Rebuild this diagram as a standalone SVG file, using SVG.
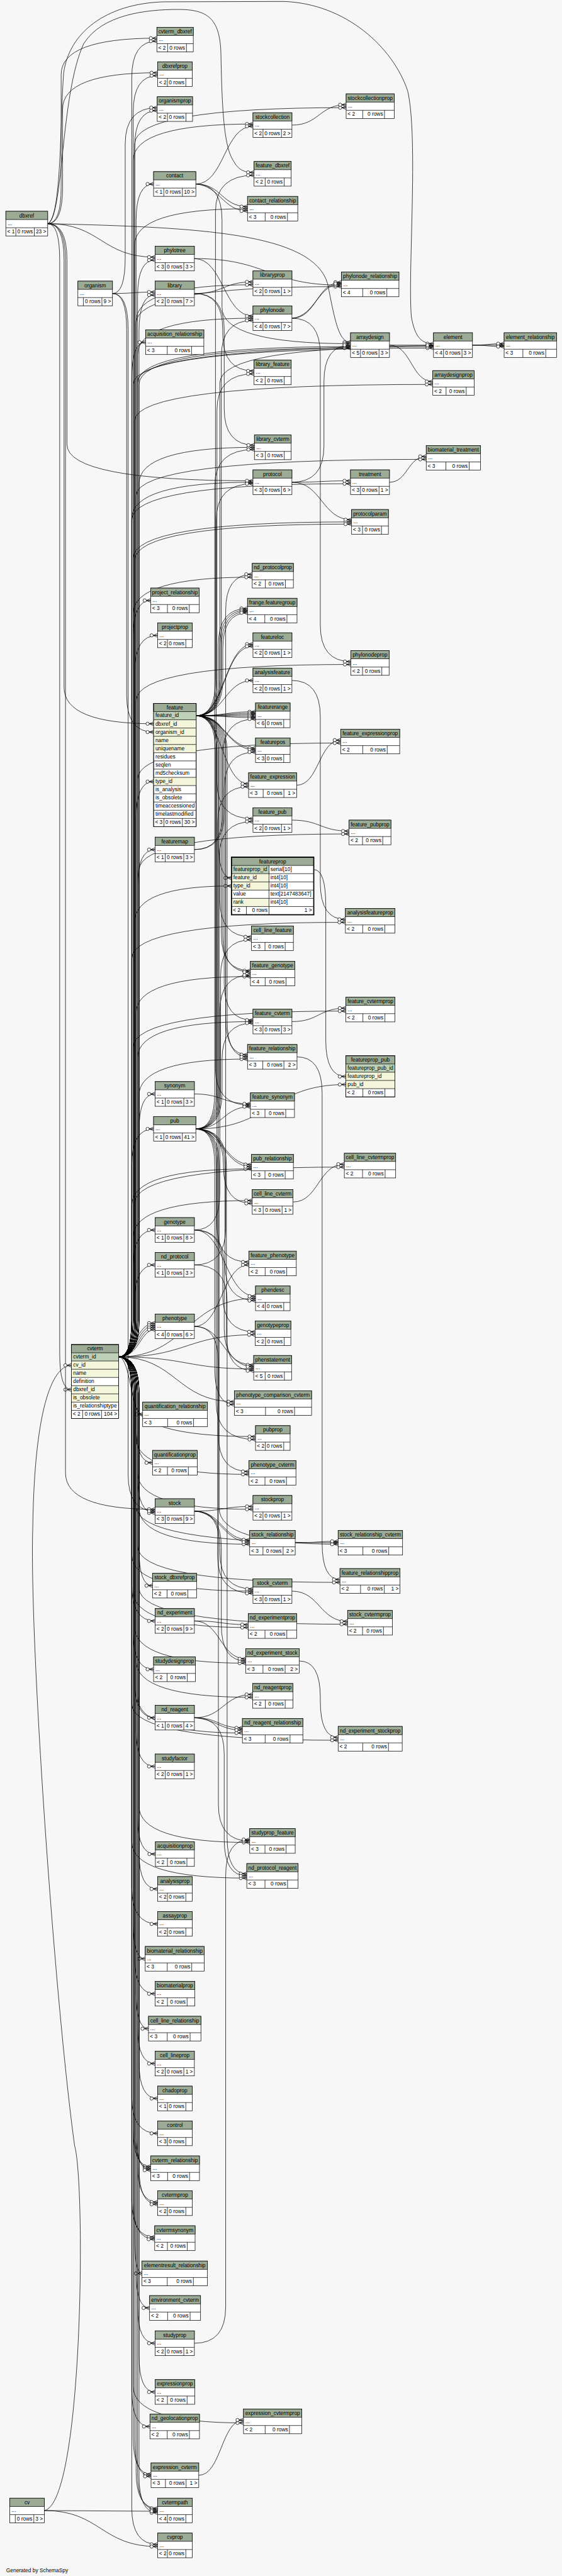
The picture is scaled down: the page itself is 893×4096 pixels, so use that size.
<svg xmlns="http://www.w3.org/2000/svg" width="893" height="4096" viewBox="0 0 893 4096">
<style>
.c path{fill:none;stroke:#000;stroke-width:1.3;marker-end:url(#m)}
.h{fill:#9bab96;stroke:#000;stroke-width:1.3}
.b{fill:#fff;stroke:#000;stroke-width:1.3}
.k{fill:#bed1b8}
.i{fill:#f4f6dc}
.l{fill:none;stroke:#000;stroke-width:1.3}
.o{fill:none;stroke:#000;stroke-width:1.3}
.f{fill:none;stroke:#000;stroke-width:3}
text{font-family:"Liberation Sans",Arial,Helvetica,sans-serif;font-size:14.5px;fill:#000}
.n{text-anchor:middle}
.e{text-anchor:end}
</style>
<defs>
<marker id="m" markerUnits="userSpaceOnUse" viewBox="0 0 24 14" markerWidth="24" markerHeight="14" refX="24" refY="7" orient="auto"><path d="M12 7L24 2M12 7H24M12 7L24 12" fill="none" stroke="#000" stroke-width="1.3"/><circle cx="7.5" cy="7" r="4.5" fill="#fff" stroke="#000" stroke-width="1.3"/></marker>
</defs>
<rect width="893" height="4096" fill="#f7f7f7"/>
<g transform="scale(0.57837 0.57829)">
<g id="connectors" class="c">
<path d="M326 3731Q362 3731 362 3631L362 213Q362 113 431 113"/>
<path d="M326 3731Q366 3731 366 3631L366 308Q366 208 433 208"/>
<path d="M326 3731Q370 3731 370 3631L370 404Q370 304 432 304"/>
<path d="M326 3731Q374 3731 374 3631L374 606Q374 506 422 506"/>
<path d="M326 3731Q378 3731 378 3631L378 815Q378 715 426 715"/>
<path d="M326 3731Q382 3731 382 3631L382 911Q382 811 426 811"/>
<path d="M326 3731Q362 3731 362 3631L362 1041Q362 941 400 941"/>
<path d="M326 3731Q366 3731 366 3631L366 1751Q366 1651 414 1651"/>
<path d="M326 3731Q370 3731 370 3631L370 1847Q370 1747 433 1747"/>
<path d="M326 3731Q374 3731 374 3631L374 2249Q374 2149 422 2149"/>
<path d="M326 3731Q378 3731 378 3631L378 2436Q378 2336 426 2336"/>
<path d="M326 3731Q382 3731 382 3631L382 3108Q382 3008 426 3008"/>
<path d="M326 3731Q362 3731 362 3631L362 3204Q362 3104 422 3104"/>
<path d="M326 3731Q366 3731 366 3631L366 3482Q366 3382 426 3382"/>
<path d="M326 3731Q370 3731 370 3631L370 3578Q370 3478 426 3478"/>
<path d="M326 3731C372 3731 372 3638 426 3638"/>
<path d="M326 3731C376 3731 376 3644 426 3644"/>
<path d="M326 3731C380 3731 380 3650 426 3650"/>
<path d="M326 3731C384 3731 384 3656 426 3656"/>
<path d="M326 3731C359 3731 359 3889 392 3889"/>
<path d="M326 3731Q374 3731 374 3831L374 3922Q374 4022 419 4022"/>
<path d="M326 3731Q378 3731 378 3831L378 4060Q378 4160 426 4160"/>
<path d="M326 3731Q382 3731 382 3831L382 4260Q382 4360 419 4360"/>
<path d="M326 3731Q362 3731 362 3831L362 4357Q362 4457 426 4457"/>
<path d="M326 3731Q366 3731 366 3831L366 4490Q366 4590 422 4590"/>
<path d="M326 3731Q370 3731 370 3831L370 4623Q370 4723 426 4723"/>
<path d="M326 3731Q374 3731 374 3831L374 4757Q374 4857 426 4857"/>
<path d="M326 3731Q378 3731 378 3831L378 4998Q378 5098 427 5098"/>
<path d="M326 3731Q382 3731 382 3831L382 5094Q382 5194 433 5194"/>
<path d="M326 3731Q362 3731 362 3831L362 5190Q362 5290 433 5290"/>
<path d="M326 3731Q366 3731 366 3831L366 5286Q366 5386 399 5386"/>
<path d="M326 3731Q370 3731 370 3831L370 5382Q370 5482 426 5482"/>
<path d="M326 3731Q374 3731 374 3831L374 5478Q374 5578 408 5578"/>
<path d="M326 3731Q378 3731 378 3831L378 5574Q378 5674 426 5674"/>
<path d="M326 3731Q382 3731 382 3831L382 5670Q382 5770 433 5770"/>
<path d="M326 3731Q362 3731 362 3831L362 5766Q362 5866 433 5866"/>
<path d="M326 3731Q366 3731 366 3831L366 5857Q366 5957 414 5957"/>
<path d="M326 3731Q370 3731 370 3831L370 5862Q370 5962 414 5962"/>
<path d="M326 3731Q374 3731 374 3831L374 5867Q374 5967 414 5967"/>
<path d="M326 3731Q378 3731 378 3831L378 5955Q378 6055 433 6055"/>
<path d="M326 3731Q382 3731 382 3831L382 5961Q382 6061 433 6061"/>
<path d="M326 3731Q362 3731 362 3831L362 6051Q362 6151 425 6151"/>
<path d="M326 3731Q366 3731 366 3831L366 6057Q366 6157 425 6157"/>
<path d="M326 3731Q370 3731 370 3831L370 6151Q370 6251 390 6251"/>
<path d="M326 3731Q374 3731 374 3831L374 6246Q374 6346 411 6346"/>
<path d="M326 3731Q378 3731 378 3831L378 6343Q378 6443 426 6443"/>
<path d="M326 3731Q382 3731 382 3831L382 6477Q382 6577 426 6577"/>
<path d="M326 3731Q362 3731 362 3831L362 6572Q362 6672 412 6672"/>
<path d="M326 3731Q366 3731 366 3831L366 6703Q366 6803 415 6803"/>
<path d="M326 3731Q370 3731 370 3831L370 6709Q370 6809 415 6809"/>
<path d="M326 3731Q374 3731 374 3831L374 6797Q374 6897 433 6897"/>
<path d="M326 3731Q378 3731 378 3831L378 6801Q378 6901 433 6901"/>
<path d="M326 3731Q382 3731 382 3831L382 6809Q382 6909 433 6909"/>
<path d="M326 3731Q362 3731 362 3831L362 6896Q362 6996 433 6996"/>
<path d="M326 3731Q366 3731 366 3631L366 441Q366 341 695 341"/>
<path d="M326 3731Q370 3731 370 3631L370 674Q370 574 680 574"/>
<path d="M326 3731Q374 3731 374 3631L374 883Q374 783 695 783"/>
<path d="M326 3731Q378 3731 378 3631L378 975Q378 875 695 875"/>
<path d="M326 3731Q382 3731 382 3631L382 1330Q382 1230 699 1230"/>
<path d="M326 3731Q362 3731 362 3631L362 1426Q362 1326 695 1326"/>
<path d="M326 3731Q366 3731 366 3631L366 1687Q366 1587 693 1587"/>
<path d="M326 3731Q370 3731 370 3631L370 2536Q370 2436 636 2436"/>
<path d="M326 3731Q374 3731 374 3631L374 2785Q374 2685 688 2685"/>
<path d="M326 3731Q378 3731 378 3631L378 2909Q378 2809 695 2809"/>
<path d="M326 3731Q382 3731 382 3631L382 3012Q382 2912 680 2912"/>
<path d="M326 3731Q362 3731 362 3631L362 3314Q362 3214 691 3214"/>
<path d="M326 3731Q366 3731 366 3631L366 3401Q366 3301 693 3301"/>
<path d="M326 3731C514 3731 514 3570 702 3570"/>
<path d="M326 3731C514 3731 514 3670 701 3670"/>
<path d="M326 3731C512 3731 512 3764 697 3764"/>
<path d="M326 3731C485 3731 485 3854 644 3854"/>
<path d="M326 3731Q370 3731 370 3831L370 3850Q370 3950 702 3950"/>
<path d="M326 3731Q374 3731 374 3831L374 3954Q374 4054 684 4054"/>
<path d="M326 3731Q378 3731 378 3831L378 4050Q378 4150 695 4150"/>
<path d="M326 3731Q382 3731 382 3831L382 4146Q382 4246 686 4246"/>
<path d="M326 3731Q362 3731 362 3831L362 4275Q362 4375 695 4375"/>
<path d="M326 3731Q366 3731 366 3831L366 4375Q366 4475 682 4475"/>
<path d="M326 3731Q370 3731 370 3831L370 4473Q370 4573 675 4573"/>
<path d="M326 3731Q374 3731 374 3831L374 4567Q374 4667 694 4667"/>
<path d="M326 3731Q378 3731 378 3831L378 4665Q378 4765 666 4765"/>
<path d="M326 3731Q382 3731 382 3831L382 4966Q382 5066 686 5066"/>
<path d="M326 3731Q362 3731 362 3831L362 5064Q362 5164 678 5164"/>
<path d="M326 3731Q366 3731 366 3831L366 6562Q366 6662 669 6662"/>
<path d="M326 3731Q370 3731 370 3631L370 396Q370 296 951 296"/>
<path d="M326 3731Q374 3731 374 3631L374 888Q374 788 938 788"/>
<path d="M326 3731Q378 3731 378 3631L378 1053Q378 953 963 953"/>
<path d="M326 3731Q382 3731 382 3631L382 1057Q382 957 963 957"/>
<path d="M326 3731Q362 3731 362 3631L362 1430Q362 1330 963 1330"/>
<path d="M326 3731Q366 3731 366 3631L366 1535Q366 1435 966 1435"/>
<path d="M326 3731Q370 3731 370 3631L370 1541Q370 1441 966 1441"/>
<path d="M326 3731Q374 3731 374 3631L374 1927Q374 1827 964 1827"/>
<path d="M326 3731Q378 3731 378 3631L378 2143Q378 2043 936 2043"/>
<path d="M326 3731Q382 3731 382 3631L382 2393Q382 2293 959 2293"/>
<path d="M326 3731Q362 3731 362 3631L362 2636Q362 2536 949 2536"/>
<path d="M326 3731Q366 3731 366 3631L366 2880Q366 2780 950 2780"/>
<path d="M326 3731Q370 3731 370 3631L370 3309Q370 3209 946 3209"/>
<path d="M326 3731Q374 3731 374 3831L374 4142Q374 4242 929 4242"/>
<path d="M326 3731Q378 3731 378 3831L378 4251Q378 4351 934 4351"/>
<path d="M326 3731Q382 3731 382 3831L382 4366Q382 4466 955 4466"/>
<path d="M326 3731Q362 3731 362 3831L362 4685Q362 4785 929 4785"/>
<path d="M326 3731Q366 3731 366 3631L366 1057Q366 957 1191 957"/>
<path d="M326 3731Q370 3731 370 3631L370 1157Q370 1057 1189 1057"/>
<path d="M326 3731Q374 3731 374 3631L374 1363Q374 1263 1171 1263"/>
<path d="M326 3731Q378 3731 378 3631L378 1049Q378 949 1385 949"/>
<path d="M131 615Q168 615 168 515L168 205Q168 105 431 105"/>
<path d="M131 615Q172 615 172 515L172 300Q172 200 433 200"/>
<path d="M131 615C175 600 165 260 230 120C280 40 400 26 490 26C570 26 605 50 607 150C610 300 615 400 640 440C655 468 670 474 698 474"/>
<path d="M131 615C278 615 278 707 426 707"/>
<path d="M131 615Q176 615 176 715L176 1890Q176 1990 422 1990"/>
<path d="M131 615Q164 615 164 715L164 3721Q164 3821 196 3821"/>
<path d="M131 615Q180 615 180 715L180 4050Q180 4150 426 4150"/>
<path d="M131 615C550 625 860 640 900 780C920 880 930 941 963 941"/>
<path d="M131 615C170 600 165 320 175 200C190 90 290 10 450 5L780 4C950 10 1080 130 1120 250C1150 380 1120 750 1130 870C1140 930 1160 945 1191 945"/>
<path d="M131 615Q184 615 184 715L184 1222Q184 1322 695 1322"/>
<path d="M122 6903C230 6880 235 6000 205 5900C150 5500 80 4500 90 4200C95 3850 150 3754 196 3754"/>
<path d="M122 6903L433 6905"/>
<path d="M122 6903C277 6903 277 7002 433 7002"/>
<path d="M309 807Q344 807 344 707L344 396Q344 296 432 296"/>
<path d="M309 807C367 807 367 803 426 803"/>
<path d="M309 807Q348 807 348 907L348 1913Q348 2013 422 2013"/>
<path d="M309 807Q352 807 352 907L352 4055Q352 4155 426 4155"/>
<path d="M538 506C616 506 616 347 695 347"/>
<path d="M538 506C609 506 609 568 680 568"/>
<path d="M538 506C605 512 613 580 680 580"/>
<path d="M538 506Q610 506 610 606L610 845Q610 945 963 945"/>
<path d="M534 711C614 711 614 869 695 869"/>
<path d="M534 711C736 711 736 784 938 784"/>
<path d="M534 807C614 807 614 775 695 775"/>
<path d="M534 807Q612 807 612 907L612 920Q612 1020 698 1020"/>
<path d="M534 807Q616 807 616 907L616 1124Q616 1224 699 1224"/>
<path d="M539 1968Q592 1968 592 1868L592 582Q592 482 698 482"/>
<path d="M539 1968Q596 1968 596 1868L596 1128Q596 1028 698 1028"/>
<path d="M539 1968Q600 1968 600 1868L600 1773Q600 1673 680 1673"/>
<path d="M539 1968Q604 1968 604 1868L604 1777Q604 1677 680 1677"/>
<path d="M539 1968Q608 1968 608 1868L608 1781Q608 1681 680 1681"/>
<path d="M539 1968Q612 1968 612 1868L612 1785Q612 1685 680 1685"/>
<path d="M539 1968C617 1968 617 1771 695 1771"/>
<path d="M539 1968C621 1968 613 1777 695 1777"/>
<path d="M539 1968C617 1968 617 1871 695 1871"/>
<path d="M539 1968C620 1968 620 1957 702 1957"/>
<path d="M539 1968C616 1968 624 1961 702 1961"/>
<path d="M539 1968C620 1968 620 1965 702 1965"/>
<path d="M539 1968C624 1968 616 1969 702 1969"/>
<path d="M539 1968C620 1968 620 1973 702 1973"/>
<path d="M539 1968C620 1968 620 2057 702 2057"/>
<path d="M539 1968C616 1968 624 2062 702 2062"/>
<path d="M539 1968C611 1968 611 2155 683 2155"/>
<path d="M539 1968Q596 1968 596 2068L596 2151Q596 2251 695 2251"/>
<path d="M539 1968Q600 1968 600 2068L600 2314Q600 2414 636 2414"/>
<path d="M539 1968Q604 1968 604 2068L604 2476Q604 2576 691 2576"/>
<path d="M539 1968Q608 1968 608 2068L608 2569Q608 2669 688 2669"/>
<path d="M539 1968Q612 1968 612 2068L612 2573Q612 2673 688 2673"/>
<path d="M539 1968Q616 1968 616 2068L616 2705Q616 2805 695 2805"/>
<path d="M539 1968Q620 1968 620 2068L620 2800Q620 2900 680 2900"/>
<path d="M539 1968Q624 1968 624 2068L624 2806Q624 2906 680 2906"/>
<path d="M539 1968Q592 1968 592 2068L592 2939Q592 3039 688 3039"/>
<path d="M539 1968Q596 1968 596 2068L596 3370Q596 3470 684 3470"/>
<path d="M539 1968Q600 1968 600 2068L600 4962Q600 5062 686 5062"/>
<path d="M539 1968Q604 1968 604 1868L604 1053Q604 953 1191 953"/>
<path d="M539 1968Q608 1968 608 1868L608 981Q608 881 695 881"/>
<path d="M534 2336Q612 2336 612 2236L612 2077Q612 1977 702 1977"/>
<path d="M534 2336Q616 2336 616 2236L616 2168Q616 2068 702 2068"/>
<path d="M534 3008C611 3008 611 3035 688 3035"/>
<path d="M538 3104Q590 3104 590 3004L590 1336Q590 1236 699 1236"/>
<path d="M538 3104Q594 3104 594 3004L594 1430Q594 1330 695 1330"/>
<path d="M538 3104Q598 3104 598 3004L598 2263Q598 2163 683 2163"/>
<path d="M538 3104Q602 3104 602 3004L602 2359Q602 2259 695 2259"/>
<path d="M538 3104Q606 3104 606 3004L606 2684Q606 2584 691 2584"/>
<path d="M538 3104Q610 3104 610 3004L610 2913Q610 2813 695 2813"/>
<path d="M538 3104C613 3104 613 3043 688 3043"/>
<path d="M538 3104C614 3104 614 3202 691 3202"/>
<path d="M538 3104C610 3110 618 3208 691 3208"/>
<path d="M538 3104Q614 3104 614 3204L614 3209Q614 3309 693 3309"/>
<path d="M538 3104Q618 3104 618 3204L618 3476Q618 3576 702 3576"/>
<path d="M538 3104Q622 3104 622 3204L622 3669Q622 3769 697 3769"/>
<path d="M538 3104Q590 3104 590 3204L590 3762Q590 3862 644 3862"/>
<path d="M538 3104Q594 3104 594 3204L594 3858Q594 3958 702 3958"/>
<path d="M538 3104Q598 3104 598 3204L598 4281Q598 4381 695 4381"/>
<path d="M538 3104C744 3104 744 2982 950 2982"/>
<path d="M538 3104Q602 3104 602 3204L602 4146Q602 4246 929 4246"/>
<path d="M534 3382Q604 3382 604 3282L604 2781Q604 2681 688 2681"/>
<path d="M534 3382C618 3382 618 3564 702 3564"/>
<path d="M534 3382Q612 3382 612 3482L612 3562Q612 3662 701 3662"/>
<path d="M534 3382Q616 3382 616 3482L616 3653Q616 3753 697 3753"/>
<path d="M534 3478Q620 3478 620 3378L620 1679Q620 1579 693 1579"/>
<path d="M534 3478Q624 3478 624 3578L624 5052Q624 5152 678 5152"/>
<path d="M534 3647C609 3647 609 3478 684 3478"/>
<path d="M534 3647C615 3647 615 3758 697 3758"/>
<path d="M534 3647Q600 3647 600 3747L600 3946Q600 4046 684 4046"/>
<path d="M534 4155C614 4155 614 4142 695 4142"/>
<path d="M534 4155C610 4155 610 4234 686 4234"/>
<path d="M534 4155C606 4160 614 4240 686 4240"/>
<path d="M534 4155Q604 4155 604 4255L604 4269Q604 4369 695 4369"/>
<path d="M534 4155Q608 4155 608 4255L608 4467Q608 4567 675 4567"/>
<path d="M534 4457C608 4457 608 4467 682 4467"/>
<path d="M534 4457C605 4457 605 4561 675 4561"/>
<path d="M534 4723C614 4723 614 4659 694 4659"/>
<path d="M534 4723C600 4723 600 4751 666 4751"/>
<path d="M534 4723C596 4728 604 4757 666 4757"/>
<path d="M534 4723Q616 4723 616 4823L616 5058Q616 5158 678 5158"/>
<path d="M534 6443Q620 6443 620 6343L620 5158Q620 5058 686 5058"/>
<path d="M546 6806C608 6806 608 6654 669 6654"/>
<path d="M802 344C877 344 877 288 951 288"/>
<path d="M802 875C870 875 870 776 938 776"/>
<path d="M802 875C866 870 874 780 938 780"/>
<path d="M802 875Q880 875 880 975L880 1719Q880 1819 964 1819"/>
<path d="M802 1326C883 1326 883 1322 963 1322"/>
<path d="M802 1326C884 1326 884 1429 966 1429"/>
<path d="M802 1326Q890 1326 890 1226L890 1049Q890 949 963 949"/>
<path d="M802 1871Q880 1871 880 1971L880 2428Q880 2528 949 2528"/>
<path d="M815 2159C876 2159 876 2035 936 2035"/>
<path d="M802 2255C880 2255 880 2285 959 2285"/>
<path d="M862 2391Q895 2391 895 2491L895 2860Q895 2960 950 2960"/>
<path d="M802 2809C876 2809 876 2772 950 2772"/>
<path d="M816 2906Q885 2906 885 3006L885 4243Q885 4343 934 4343"/>
<path d="M805 3305C875 3305 875 3201 946 3201"/>
<path d="M811 4242C870 4242 870 4238 929 4238"/>
<path d="M802 4375C878 4375 878 4458 955 4458"/>
<path d="M822 4567Q880 4567 880 4667L880 4677Q880 4777 929 4777"/>
<path d="M1070 949L1191 949"/>
<path d="M1070 949C1130 949 1130 1049 1189 1049"/>
<path d="M1070 1326C1120 1326 1120 1255 1171 1255"/>
<path d="M1298 949C1341 949 1341 945 1385 945"/>
<path d="M1298 949C1341 949 1341 953 1385 953"/>
</g>
<g id="nodes">
<g id="dbxref" transform="translate(16 581)"><rect class="b" width="115" height="67.8"/><rect class="h" width="115" height="22.6"/><path class="l" d="M0 45.2H115M27.5 45.2V67.8M78.3 45.2V67.8"/><text class="n" x="57.5" y="16.5">dbxref</text><text x="5" y="38">...</text><text x="4" y="61">&lt; 1</text><text class="e" x="74.3" y="61">0 rows</text><text class="e" x="111" y="61">23 &gt;</text></g>
<g id="cv" transform="translate(27 6869)"><rect class="b" width="95" height="67.8"/><rect class="h" width="95" height="22.6"/><path class="l" d="M0 45.2H95M15 45.2V67.8M66 45.2V67.8"/><text class="n" x="47.5" y="16.5">cv</text><text x="5" y="38">...</text><text class="e" x="62" y="61">0 rows</text><text class="e" x="91" y="61">3 &gt;</text></g>
<g id="organism" transform="translate(214 773)"><rect class="b" width="95" height="67.8"/><rect class="h" width="95" height="22.6"/><path class="l" d="M0 45.2H95M15 45.2V67.8M66 45.2V67.8"/><text class="n" x="47.5" y="16.5">organism</text><text x="5" y="38">...</text><text class="e" x="62" y="61">0 rows</text><text class="e" x="91" y="61">9 &gt;</text></g>
<g id="cvterm" transform="translate(196 3697)"><rect class="b" width="130" height="203.4"/><rect class="k" y="22.6" width="130" height="22.6"/><rect class="i" y="45.2" width="130" height="45.2"/><rect class="i" y="113" width="130" height="45.2"/><rect class="h" width="130" height="22.6"/><path class="l" d="M0 45.2H130M0 67.8H130M0 90.4H130M0 113H130M0 135.6H130M0 158.2H130M0 180.8H130M31 180.8V203.4M83 180.8V203.4"/><rect class="o" width="130" height="203.4"/><text class="n" x="65" y="16.5">cvterm</text><text x="5" y="38.1">cvterm_id</text><text x="5" y="60.7">cv_id</text><text x="5" y="83.3">name</text><text x="5" y="105.9">definition</text><text x="5" y="128.5">dbxref_id</text><text x="5" y="151.1">is_obsolete</text><text x="5" y="173.7">is_relationshiptype</text><text x="4" y="196.3">&lt; 2</text><text class="e" x="79" y="196.3">0 rows</text><text class="e" x="126" y="196.3">104 &gt;</text></g>
<g id="cvterm_dbxref" transform="translate(431 75)"><rect class="b" width="100" height="67.8"/><rect class="h" width="100" height="22.6"/><path class="l" d="M0 45.2H100M29.5 45.2V67.8M81.3 45.2V67.8"/><text class="n" x="50" y="16.5">cvterm_dbxref</text><text x="5" y="38">...</text><text x="4" y="61">&lt; 2</text><text class="e" x="77.3" y="61">0 rows</text></g>
<g id="dbxrefprop" transform="translate(433 170)"><rect class="b" width="95" height="67.8"/><rect class="h" width="95" height="22.6"/><path class="l" d="M0 45.2H95M27 45.2V67.8M77.5 45.2V67.8"/><text class="n" x="47.5" y="16.5">dbxrefprop</text><text x="5" y="38">...</text><text x="4" y="61">&lt; 2</text><text class="e" x="73.5" y="61">0 rows</text></g>
<g id="organismprop" transform="translate(432 266)"><rect class="b" width="97" height="67.8"/><rect class="h" width="97" height="22.6"/><path class="l" d="M0 45.2H97M28 45.2V67.8M79 45.2V67.8"/><text class="n" x="48.5" y="16.5">organismprop</text><text x="5" y="38">...</text><text x="4" y="61">&lt; 2</text><text class="e" x="75" y="61">0 rows</text></g>
<g id="contact" transform="translate(422 472)"><rect class="b" width="116" height="67.8"/><rect class="h" width="116" height="22.6"/><path class="l" d="M0 45.2H116M28 45.2V67.8M79 45.2V67.8"/><text class="n" x="58" y="16.5">contact</text><text x="5" y="38">...</text><text x="4" y="61">&lt; 1</text><text class="e" x="75" y="61">0 rows</text><text class="e" x="112" y="61">10 &gt;</text></g>
<g id="phylotree" transform="translate(426 677)"><rect class="b" width="108" height="67.8"/><rect class="h" width="108" height="22.6"/><path class="l" d="M0 45.2H108M28 45.2V67.8M79 45.2V67.8"/><text class="n" x="54" y="16.5">phylotree</text><text x="5" y="38">...</text><text x="4" y="61">&lt; 3</text><text class="e" x="75" y="61">0 rows</text><text class="e" x="104" y="61">3 &gt;</text></g>
<g id="library" transform="translate(426 773)"><rect class="b" width="108" height="67.8"/><rect class="h" width="108" height="22.6"/><path class="l" d="M0 45.2H108M28 45.2V67.8M79 45.2V67.8"/><text class="n" x="54" y="16.5">library</text><text x="5" y="38">...</text><text x="4" y="61">&lt; 2</text><text class="e" x="75" y="61">0 rows</text><text class="e" x="104" y="61">7 &gt;</text></g>
<g id="acquisition_relationship" transform="translate(400 907)"><rect class="b" width="160" height="67.8"/><rect class="h" width="160" height="22.6"/><path class="l" d="M0 45.2H160M59.5 45.2V67.8M126.3 45.2V67.8"/><text class="n" x="80" y="16.5">acquisition_relationship</text><text x="5" y="38">...</text><text x="4" y="61">&lt; 3</text><text class="e" x="122.3" y="61">0 rows</text></g>
<g id="project_relationship" transform="translate(414 1617)"><rect class="b" width="133" height="67.8"/><rect class="h" width="133" height="22.6"/><path class="l" d="M0 45.2H133M46 45.2V67.8M106 45.2V67.8"/><text class="n" x="66.5" y="16.5">project_relationship</text><text x="5" y="38">...</text><text x="4" y="61">&lt; 3</text><text class="e" x="102" y="61">0 rows</text></g>
<g id="projectprop" transform="translate(433 1713)"><rect class="b" width="95" height="67.8"/><rect class="h" width="95" height="22.6"/><path class="l" d="M0 45.2H95M27 45.2V67.8M77.5 45.2V67.8"/><text class="n" x="47.5" y="16.5">projectprop</text><text x="5" y="38">...</text><text x="4" y="61">&lt; 2</text><text class="e" x="73.5" y="61">0 rows</text></g>
<g id="feature" transform="translate(422 1934)"><rect class="b" width="117" height="339"/><rect class="k" y="22.6" width="117" height="22.6"/><rect class="i" y="45.2" width="117" height="90.4"/><rect class="i" y="203.4" width="117" height="22.6"/><rect class="h" width="117" height="22.6"/><path class="l" d="M0 45.2H117M0 67.8H117M0 90.4H117M0 113H117M0 135.6H117M0 158.2H117M0 180.8H117M0 203.4H117M0 226H117M0 248.6H117M0 271.2H117M0 293.8H117M0 316.4H117M28.5 316.4V339M79 316.4V339"/><rect class="o" width="117" height="339"/><text class="n" x="58.5" y="16.5">feature</text><text x="5" y="38.1">feature_id</text><text x="5" y="60.7">dbxref_id</text><text x="5" y="83.3">organism_id</text><text x="5" y="105.9">name</text><text x="5" y="128.5">uniquename</text><text x="5" y="151.1">residues</text><text x="5" y="173.7">seqlen</text><text x="5" y="196.3">md5checksum</text><text x="5" y="218.9">type_id</text><text x="5" y="241.5">is_analysis</text><text x="5" y="264.1">is_obsolete</text><text x="5" y="286.7">timeaccessioned</text><text x="5" y="309.3">timelastmodified</text><text x="4" y="331.9">&lt; 3</text><text class="e" x="75" y="331.9">0 rows</text><text class="e" x="113" y="331.9">30 &gt;</text></g>
<g id="featuremap" transform="translate(426 2302)"><rect class="b" width="108" height="67.8"/><rect class="h" width="108" height="22.6"/><path class="l" d="M0 45.2H108M28 45.2V67.8M79 45.2V67.8"/><text class="n" x="54" y="16.5">featuremap</text><text x="5" y="38">...</text><text x="4" y="61">&lt; 1</text><text class="e" x="75" y="61">0 rows</text><text class="e" x="104" y="61">3 &gt;</text></g>
<g id="synonym" transform="translate(426 2974)"><rect class="b" width="108" height="67.8"/><rect class="h" width="108" height="22.6"/><path class="l" d="M0 45.2H108M28 45.2V67.8M79 45.2V67.8"/><text class="n" x="54" y="16.5">synonym</text><text x="5" y="38">...</text><text x="4" y="61">&lt; 1</text><text class="e" x="75" y="61">0 rows</text><text class="e" x="104" y="61">3 &gt;</text></g>
<g id="pub" transform="translate(422 3070)"><rect class="b" width="116" height="67.8"/><rect class="h" width="116" height="22.6"/><path class="l" d="M0 45.2H116M28 45.2V67.8M79 45.2V67.8"/><text class="n" x="58" y="16.5">pub</text><text x="5" y="38">...</text><text x="4" y="61">&lt; 1</text><text class="e" x="75" y="61">0 rows</text><text class="e" x="112" y="61">41 &gt;</text></g>
<g id="genotype" transform="translate(426 3348)"><rect class="b" width="108" height="67.8"/><rect class="h" width="108" height="22.6"/><path class="l" d="M0 45.2H108M28 45.2V67.8M79 45.2V67.8"/><text class="n" x="54" y="16.5">genotype</text><text x="5" y="38">...</text><text x="4" y="61">&lt; 1</text><text class="e" x="75" y="61">0 rows</text><text class="e" x="104" y="61">8 &gt;</text></g>
<g id="nd_protocol" transform="translate(426 3444)"><rect class="b" width="108" height="67.8"/><rect class="h" width="108" height="22.6"/><path class="l" d="M0 45.2H108M28 45.2V67.8M79 45.2V67.8"/><text class="n" x="54" y="16.5">nd_protocol</text><text x="5" y="38">...</text><text x="4" y="61">&lt; 1</text><text class="e" x="75" y="61">0 rows</text><text class="e" x="104" y="61">3 &gt;</text></g>
<g id="phenotype" transform="translate(426 3613)"><rect class="b" width="108" height="67.8"/><rect class="h" width="108" height="22.6"/><path class="l" d="M0 45.2H108M28 45.2V67.8M79 45.2V67.8"/><text class="n" x="54" y="16.5">phenotype</text><text x="5" y="38">...</text><text x="4" y="61">&lt; 4</text><text class="e" x="75" y="61">0 rows</text><text class="e" x="104" y="61">6 &gt;</text></g>
<g id="quantification_relationship" transform="translate(392 3855)"><rect class="b" width="178" height="67.8"/><rect class="h" width="178" height="22.6"/><path class="l" d="M0 45.2H178M68.5 45.2V67.8M139.8 45.2V67.8"/><text class="n" x="89" y="16.5">quantification_relationship</text><text x="5" y="38">...</text><text x="4" y="61">&lt; 3</text><text class="e" x="135.8" y="61">0 rows</text></g>
<g id="quantificationprop" transform="translate(419 3988)"><rect class="b" width="123" height="67.8"/><rect class="h" width="123" height="22.6"/><path class="l" d="M0 45.2H123M41 45.2V67.8M98.5 45.2V67.8"/><text class="n" x="61.5" y="16.5">quantificationprop</text><text x="5" y="38">...</text><text x="4" y="61">&lt; 2</text><text class="e" x="94.5" y="61">0 rows</text></g>
<g id="stock" transform="translate(426 4121)"><rect class="b" width="108" height="67.8"/><rect class="h" width="108" height="22.6"/><path class="l" d="M0 45.2H108M28 45.2V67.8M79 45.2V67.8"/><text class="n" x="54" y="16.5">stock</text><text x="5" y="38">...</text><text x="4" y="61">&lt; 3</text><text class="e" x="75" y="61">0 rows</text><text class="e" x="104" y="61">9 &gt;</text></g>
<g id="stock_dbxrefprop" transform="translate(419 4326)"><rect class="b" width="121" height="67.8"/><rect class="h" width="121" height="22.6"/><path class="l" d="M0 45.2H121M40 45.2V67.8M97 45.2V67.8"/><text class="n" x="60.5" y="16.5">stock_dbxrefprop</text><text x="5" y="38">...</text><text x="4" y="61">&lt; 2</text><text class="e" x="93" y="61">0 rows</text></g>
<g id="nd_experiment" transform="translate(426 4423)"><rect class="b" width="108" height="67.8"/><rect class="h" width="108" height="22.6"/><path class="l" d="M0 45.2H108M28 45.2V67.8M79 45.2V67.8"/><text class="n" x="54" y="16.5">nd_experiment</text><text x="5" y="38">...</text><text x="4" y="61">&lt; 2</text><text class="e" x="75" y="61">0 rows</text><text class="e" x="104" y="61">9 &gt;</text></g>
<g id="studydesignprop" transform="translate(422 4556)"><rect class="b" width="115" height="67.8"/><rect class="h" width="115" height="22.6"/><path class="l" d="M0 45.2H115M37 45.2V67.8M92.5 45.2V67.8"/><text class="n" x="57.5" y="16.5">studydesignprop</text><text x="5" y="38">...</text><text x="4" y="61">&lt; 2</text><text class="e" x="88.5" y="61">0 rows</text></g>
<g id="nd_reagent" transform="translate(426 4689)"><rect class="b" width="108" height="67.8"/><rect class="h" width="108" height="22.6"/><path class="l" d="M0 45.2H108M28 45.2V67.8M79 45.2V67.8"/><text class="n" x="54" y="16.5">nd_reagent</text><text x="5" y="38">...</text><text x="4" y="61">&lt; 1</text><text class="e" x="75" y="61">0 rows</text><text class="e" x="104" y="61">4 &gt;</text></g>
<g id="studyfactor" transform="translate(426 4823)"><rect class="b" width="108" height="67.8"/><rect class="h" width="108" height="22.6"/><path class="l" d="M0 45.2H108M28 45.2V67.8M79 45.2V67.8"/><text class="n" x="54" y="16.5">studyfactor</text><text x="5" y="38">...</text><text x="4" y="61">&lt; 2</text><text class="e" x="75" y="61">0 rows</text><text class="e" x="104" y="61">1 &gt;</text></g>
<g id="acquisitionprop" transform="translate(427 5064)"><rect class="b" width="107" height="67.8"/><rect class="h" width="107" height="22.6"/><path class="l" d="M0 45.2H107M33 45.2V67.8M86.5 45.2V67.8"/><text class="n" x="53.5" y="16.5">acquisitionprop</text><text x="5" y="38">...</text><text x="4" y="61">&lt; 2</text><text class="e" x="82.5" y="61">0 rows</text></g>
<g id="analysisprop" transform="translate(433 5160)"><rect class="b" width="95" height="67.8"/><rect class="h" width="95" height="22.6"/><path class="l" d="M0 45.2H95M27 45.2V67.8M77.5 45.2V67.8"/><text class="n" x="47.5" y="16.5">analysisprop</text><text x="5" y="38">...</text><text x="4" y="61">&lt; 2</text><text class="e" x="73.5" y="61">0 rows</text></g>
<g id="assayprop" transform="translate(433 5256)"><rect class="b" width="95" height="67.8"/><rect class="h" width="95" height="22.6"/><path class="l" d="M0 45.2H95M27 45.2V67.8M77.5 45.2V67.8"/><text class="n" x="47.5" y="16.5">assayprop</text><text x="5" y="38">...</text><text x="4" y="61">&lt; 2</text><text class="e" x="73.5" y="61">0 rows</text></g>
<g id="biomaterial_relationship" transform="translate(399 5352)"><rect class="b" width="162" height="67.8"/><rect class="h" width="162" height="22.6"/><path class="l" d="M0 45.2H162M60.5 45.2V67.8M127.8 45.2V67.8"/><text class="n" x="81" y="16.5">biomaterial_relationship</text><text x="5" y="38">...</text><text x="4" y="61">&lt; 3</text><text class="e" x="123.8" y="61">0 rows</text></g>
<g id="biomaterialprop" transform="translate(426 5448)"><rect class="b" width="109" height="67.8"/><rect class="h" width="109" height="22.6"/><path class="l" d="M0 45.2H109M34 45.2V67.8M88 45.2V67.8"/><text class="n" x="54.5" y="16.5">biomaterialprop</text><text x="5" y="38">...</text><text x="4" y="61">&lt; 2</text><text class="e" x="84" y="61">0 rows</text></g>
<g id="cell_line_relationship" transform="translate(408 5544)"><rect class="b" width="144" height="67.8"/><rect class="h" width="144" height="22.6"/><path class="l" d="M0 45.2H144M51.5 45.2V67.8M114.3 45.2V67.8"/><text class="n" x="72" y="16.5">cell_line_relationship</text><text x="5" y="38">...</text><text x="4" y="61">&lt; 3</text><text class="e" x="110.3" y="61">0 rows</text></g>
<g id="cell_lineprop" transform="translate(426 5640)"><rect class="b" width="108" height="67.8"/><rect class="h" width="108" height="22.6"/><path class="l" d="M0 45.2H108M28 45.2V67.8M79 45.2V67.8"/><text class="n" x="54" y="16.5">cell_lineprop</text><text x="5" y="38">...</text><text x="4" y="61">&lt; 2</text><text class="e" x="75" y="61">0 rows</text><text class="e" x="104" y="61">1 &gt;</text></g>
<g id="chadoprop" transform="translate(433 5736)"><rect class="b" width="95" height="67.8"/><rect class="h" width="95" height="22.6"/><path class="l" d="M0 45.2H95M27 45.2V67.8M77.5 45.2V67.8"/><text class="n" x="47.5" y="16.5">chadoprop</text><text x="5" y="38">...</text><text x="4" y="61">&lt; 1</text><text class="e" x="73.5" y="61">0 rows</text></g>
<g id="control" transform="translate(433 5832)"><rect class="b" width="95" height="67.8"/><rect class="h" width="95" height="22.6"/><path class="l" d="M0 45.2H95M27 45.2V67.8M77.5 45.2V67.8"/><text class="n" x="47.5" y="16.5">control</text><text x="5" y="38">...</text><text x="4" y="61">&lt; 3</text><text class="e" x="73.5" y="61">0 rows</text></g>
<g id="cvterm_relationship" transform="translate(414 5928)"><rect class="b" width="134" height="67.8"/><rect class="h" width="134" height="22.6"/><path class="l" d="M0 45.2H134M46.5 45.2V67.8M106.8 45.2V67.8"/><text class="n" x="67" y="16.5">cvterm_relationship</text><text x="5" y="38">...</text><text x="4" y="61">&lt; 3</text><text class="e" x="102.8" y="61">0 rows</text></g>
<g id="cvtermprop" transform="translate(433 6024)"><rect class="b" width="95" height="67.8"/><rect class="h" width="95" height="22.6"/><path class="l" d="M0 45.2H95M27 45.2V67.8M77.5 45.2V67.8"/><text class="n" x="47.5" y="16.5">cvtermprop</text><text x="5" y="38">...</text><text x="4" y="61">&lt; 2</text><text class="e" x="73.5" y="61">0 rows</text></g>
<g id="cvtermsynonym" transform="translate(425 6120)"><rect class="b" width="111" height="67.8"/><rect class="h" width="111" height="22.6"/><path class="l" d="M0 45.2H111M35 45.2V67.8M89.5 45.2V67.8"/><text class="n" x="55.5" y="16.5">cvtermsynonym</text><text x="5" y="38">...</text><text x="4" y="61">&lt; 2</text><text class="e" x="85.5" y="61">0 rows</text></g>
<g id="elementresult_relationship" transform="translate(390 6217)"><rect class="b" width="180" height="67.8"/><rect class="h" width="180" height="22.6"/><path class="l" d="M0 45.2H180M69.5 45.2V67.8M141.3 45.2V67.8"/><text class="n" x="90" y="16.5">elementresult_relationship</text><text x="5" y="38">...</text><text x="4" y="61">&lt; 3</text><text class="e" x="137.3" y="61">0 rows</text></g>
<g id="environment_cvterm" transform="translate(411 6312)"><rect class="b" width="140" height="67.8"/><rect class="h" width="140" height="22.6"/><path class="l" d="M0 45.2H140M49.5 45.2V67.8M111.3 45.2V67.8"/><text class="n" x="70" y="16.5">environment_cvterm</text><text x="5" y="38">...</text><text x="4" y="61">&lt; 2</text><text class="e" x="107.3" y="61">0 rows</text></g>
<g id="studyprop" transform="translate(426 6409)"><rect class="b" width="108" height="67.8"/><rect class="h" width="108" height="22.6"/><path class="l" d="M0 45.2H108M28 45.2V67.8M79 45.2V67.8"/><text class="n" x="54" y="16.5">studyprop</text><text x="5" y="38">...</text><text x="4" y="61">&lt; 2</text><text class="e" x="75" y="61">0 rows</text><text class="e" x="104" y="61">1 &gt;</text></g>
<g id="expressionprop" transform="translate(426 6543)"><rect class="b" width="109" height="67.8"/><rect class="h" width="109" height="22.6"/><path class="l" d="M0 45.2H109M34 45.2V67.8M88 45.2V67.8"/><text class="n" x="54.5" y="16.5">expressionprop</text><text x="5" y="38">...</text><text x="4" y="61">&lt; 2</text><text class="e" x="84" y="61">0 rows</text></g>
<g id="nd_geolocationprop" transform="translate(412 6638)"><rect class="b" width="136" height="67.8"/><rect class="h" width="136" height="22.6"/><path class="l" d="M0 45.2H136M47.5 45.2V67.8M108.3 45.2V67.8"/><text class="n" x="68" y="16.5">nd_geolocationprop</text><text x="5" y="38">...</text><text x="4" y="61">&lt; 2</text><text class="e" x="104.3" y="61">0 rows</text></g>
<g id="expression_cvterm" transform="translate(415 6772)"><rect class="b" width="131" height="67.8"/><rect class="h" width="131" height="22.6"/><path class="l" d="M0 45.2H131M39.5 45.2V67.8M96.3 45.2V67.8"/><text class="n" x="65.5" y="16.5">expression_cvterm</text><text x="5" y="38">...</text><text x="4" y="61">&lt; 3</text><text class="e" x="92.3" y="61">0 rows</text><text class="e" x="127" y="61">1 &gt;</text></g>
<g id="cvtermpath" transform="translate(433 6869)"><rect class="b" width="95" height="67.8"/><rect class="h" width="95" height="22.6"/><path class="l" d="M0 45.2H95M27 45.2V67.8M77.5 45.2V67.8"/><text class="n" x="47.5" y="16.5">cvtermpath</text><text x="5" y="38">...</text><text x="4" y="61">&lt; 4</text><text class="e" x="73.5" y="61">0 rows</text></g>
<g id="cvprop" transform="translate(433 6965)"><rect class="b" width="95" height="67.8"/><rect class="h" width="95" height="22.6"/><path class="l" d="M0 45.2H95M27 45.2V67.8M77.5 45.2V67.8"/><text class="n" x="47.5" y="16.5">cvprop</text><text x="5" y="38">...</text><text x="4" y="61">&lt; 2</text><text class="e" x="73.5" y="61">0 rows</text></g>
<g id="stockcollection" transform="translate(695 310)"><rect class="b" width="107" height="67.8"/><rect class="h" width="107" height="22.6"/><path class="l" d="M0 45.2H107M27.5 45.2V67.8M78.3 45.2V67.8"/><text class="n" x="53.5" y="16.5">stockcollection</text><text x="5" y="38">...</text><text x="4" y="61">&lt; 2</text><text class="e" x="74.3" y="61">0 rows</text><text class="e" x="103" y="61">2 &gt;</text></g>
<g id="feature_dbxref" transform="translate(698 444)"><rect class="b" width="102" height="67.8"/><rect class="h" width="102" height="22.6"/><path class="l" d="M0 45.2H102M30.5 45.2V67.8M82.8 45.2V67.8"/><text class="n" x="51" y="16.5">feature_dbxref</text><text x="5" y="38">...</text><text x="4" y="61">&lt; 2</text><text class="e" x="78.8" y="61">0 rows</text></g>
<g id="contact_relationship" transform="translate(680 540)"><rect class="b" width="138" height="67.8"/><rect class="h" width="138" height="22.6"/><path class="l" d="M0 45.2H138M48.5 45.2V67.8M109.8 45.2V67.8"/><text class="n" x="69" y="16.5">contact_relationship</text><text x="5" y="38">...</text><text x="4" y="61">&lt; 3</text><text class="e" x="105.8" y="61">0 rows</text></g>
<g id="libraryprop" transform="translate(695 745)"><rect class="b" width="107" height="67.8"/><rect class="h" width="107" height="22.6"/><path class="l" d="M0 45.2H107M27.5 45.2V67.8M78.3 45.2V67.8"/><text class="n" x="53.5" y="16.5">libraryprop</text><text x="5" y="38">...</text><text x="4" y="61">&lt; 2</text><text class="e" x="74.3" y="61">0 rows</text><text class="e" x="103" y="61">1 &gt;</text></g>
<g id="phylonode" transform="translate(695 841)"><rect class="b" width="107" height="67.8"/><rect class="h" width="107" height="22.6"/><path class="l" d="M0 45.2H107M27.5 45.2V67.8M78.3 45.2V67.8"/><text class="n" x="53.5" y="16.5">phylonode</text><text x="5" y="38">...</text><text x="4" y="61">&lt; 4</text><text class="e" x="74.3" y="61">0 rows</text><text class="e" x="103" y="61">7 &gt;</text></g>
<g id="library_feature" transform="translate(698 990)"><rect class="b" width="102" height="67.8"/><rect class="h" width="102" height="22.6"/><path class="l" d="M0 45.2H102M30.5 45.2V67.8M82.8 45.2V67.8"/><text class="n" x="51" y="16.5">library_feature</text><text x="5" y="38">...</text><text x="4" y="61">&lt; 2</text><text class="e" x="78.8" y="61">0 rows</text></g>
<g id="library_cvterm" transform="translate(699 1196)"><rect class="b" width="101" height="67.8"/><rect class="h" width="101" height="22.6"/><path class="l" d="M0 45.2H101M30 45.2V67.8M82 45.2V67.8"/><text class="n" x="50.5" y="16.5">library_cvterm</text><text x="5" y="38">...</text><text x="4" y="61">&lt; 3</text><text class="e" x="78" y="61">0 rows</text></g>
<g id="protocol" transform="translate(695 1292)"><rect class="b" width="107" height="67.8"/><rect class="h" width="107" height="22.6"/><path class="l" d="M0 45.2H107M27.5 45.2V67.8M78.3 45.2V67.8"/><text class="n" x="53.5" y="16.5">protocol</text><text x="5" y="38">...</text><text x="4" y="61">&lt; 3</text><text class="e" x="74.3" y="61">0 rows</text><text class="e" x="103" y="61">6 &gt;</text></g>
<g id="nd_protocolprop" transform="translate(693 1549)"><rect class="b" width="113" height="67.8"/><rect class="h" width="113" height="22.6"/><path class="l" d="M0 45.2H113M36 45.2V67.8M91 45.2V67.8"/><text class="n" x="56.5" y="16.5">nd_protocolprop</text><text x="5" y="38">...</text><text x="4" y="61">&lt; 2</text><text class="e" x="87" y="61">0 rows</text></g>
<g id="frange-featuregroup" transform="translate(680 1645)"><rect class="b" width="136" height="67.8"/><rect class="h" width="136" height="22.6"/><path class="l" d="M0 45.2H136M47.5 45.2V67.8M108.3 45.2V67.8"/><text class="n" x="68" y="16.5">frange.featuregroup</text><text x="5" y="38">...</text><text x="4" y="61">&lt; 4</text><text class="e" x="104.3" y="61">0 rows</text></g>
<g id="featureloc" transform="translate(695 1740)"><rect class="b" width="107" height="67.8"/><rect class="h" width="107" height="22.6"/><path class="l" d="M0 45.2H107M27.5 45.2V67.8M78.3 45.2V67.8"/><text class="n" x="53.5" y="16.5">featureloc</text><text x="5" y="38">...</text><text x="4" y="61">&lt; 2</text><text class="e" x="74.3" y="61">0 rows</text><text class="e" x="103" y="61">1 &gt;</text></g>
<g id="analysisfeature" transform="translate(695 1837)"><rect class="b" width="107" height="67.8"/><rect class="h" width="107" height="22.6"/><path class="l" d="M0 45.2H107M27.5 45.2V67.8M78.3 45.2V67.8"/><text class="n" x="53.5" y="16.5">analysisfeature</text><text x="5" y="38">...</text><text x="4" y="61">&lt; 2</text><text class="e" x="74.3" y="61">0 rows</text><text class="e" x="103" y="61">1 &gt;</text></g>
<g id="featurerange" transform="translate(702 1933)"><rect class="b" width="95" height="67.8"/><rect class="h" width="95" height="22.6"/><path class="l" d="M0 45.2H95M27 45.2V67.8M77.5 45.2V67.8"/><text class="n" x="47.5" y="16.5">featurerange</text><text x="5" y="38">...</text><text x="4" y="61">&lt; 6</text><text class="e" x="73.5" y="61">0 rows</text></g>
<g id="featurepos" transform="translate(702 2029)"><rect class="b" width="95" height="67.8"/><rect class="h" width="95" height="22.6"/><path class="l" d="M0 45.2H95M27 45.2V67.8M77.5 45.2V67.8"/><text class="n" x="47.5" y="16.5">featurepos</text><text x="5" y="38">...</text><text x="4" y="61">&lt; 3</text><text class="e" x="73.5" y="61">0 rows</text></g>
<g id="feature_expression" transform="translate(683 2125)"><rect class="b" width="132" height="67.8"/><rect class="h" width="132" height="22.6"/><path class="l" d="M0 45.2H132M40 45.2V67.8M97 45.2V67.8"/><text class="n" x="66" y="16.5">feature_expression</text><text x="5" y="38">...</text><text x="4" y="61">&lt; 3</text><text class="e" x="93" y="61">0 rows</text><text class="e" x="128" y="61">1 &gt;</text></g>
<g id="feature_pub" transform="translate(695 2221)"><rect class="b" width="107" height="67.8"/><rect class="h" width="107" height="22.6"/><path class="l" d="M0 45.2H107M27.5 45.2V67.8M78.3 45.2V67.8"/><text class="n" x="53.5" y="16.5">feature_pub</text><text x="5" y="38">...</text><text x="4" y="61">&lt; 2</text><text class="e" x="74.3" y="61">0 rows</text><text class="e" x="103" y="61">1 &gt;</text></g>
<g id="featureprop" transform="translate(636 2357)"><rect class="b" width="226" height="158.2"/><rect class="k" y="22.6" width="103" height="22.6"/><rect class="i" y="45.2" width="103" height="45.2"/><rect class="i" y="113" width="103" height="22.6"/><rect class="h" width="226" height="22.6"/><path class="l" d="M0 45.2H226M0 67.8H226M0 90.4H226M0 113H226M0 135.6H226M103 22.6V158.2M41 135.6V158.2"/><rect class="f" width="226" height="158.2"/><text class="n" x="113" y="16.5">featureprop</text><text x="5" y="38.1">featureprop_id</text><text x="5" y="60.7">feature_id</text><text x="5" y="83.3">type_id</text><text x="5" y="105.9">value</text><text x="5" y="128.5">rank</text><text x="107" y="38.1">serial[10]</text><text x="107" y="60.7">int4[10]</text><text x="107" y="83.3">int4[10]</text><text x="107" y="105.9">text[2147483647]</text><text x="107" y="128.5">int4[10]</text><text x="4" y="151.1">&lt; 2</text><text class="e" x="99" y="151.1">0 rows</text><text class="e" x="221" y="151.1">1 &gt;</text></g>
<g id="cell_line_feature" transform="translate(691 2546)"><rect class="b" width="115" height="67.8"/><rect class="h" width="115" height="22.6"/><path class="l" d="M0 45.2H115M37 45.2V67.8M92.5 45.2V67.8"/><text class="n" x="57.5" y="16.5">cell_line_feature</text><text x="5" y="38">...</text><text x="4" y="61">&lt; 3</text><text class="e" x="88.5" y="61">0 rows</text></g>
<g id="feature_genotype" transform="translate(688 2643)"><rect class="b" width="122" height="67.8"/><rect class="h" width="122" height="22.6"/><path class="l" d="M0 45.2H122M40.5 45.2V67.8M97.8 45.2V67.8"/><text class="n" x="61" y="16.5">feature_genotype</text><text x="5" y="38">...</text><text x="4" y="61">&lt; 4</text><text class="e" x="93.8" y="61">0 rows</text></g>
<g id="feature_cvterm" transform="translate(695 2775)"><rect class="b" width="107" height="67.8"/><rect class="h" width="107" height="22.6"/><path class="l" d="M0 45.2H107M27.5 45.2V67.8M78.3 45.2V67.8"/><text class="n" x="53.5" y="16.5">feature_cvterm</text><text x="5" y="38">...</text><text x="4" y="61">&lt; 3</text><text class="e" x="74.3" y="61">0 rows</text><text class="e" x="103" y="61">3 &gt;</text></g>
<g id="feature_relationship" transform="translate(680 2872)"><rect class="b" width="136" height="67.8"/><rect class="h" width="136" height="22.6"/><path class="l" d="M0 45.2H136M42 45.2V67.8M100 45.2V67.8"/><text class="n" x="68" y="16.5">feature_relationship</text><text x="5" y="38">...</text><text x="4" y="61">&lt; 3</text><text class="e" x="96" y="61">0 rows</text><text class="e" x="132" y="61">2 &gt;</text></g>
<g id="feature_synonym" transform="translate(688 3005)"><rect class="b" width="121" height="67.8"/><rect class="h" width="121" height="22.6"/><path class="l" d="M0 45.2H121M40 45.2V67.8M97 45.2V67.8"/><text class="n" x="60.5" y="16.5">feature_synonym</text><text x="5" y="38">...</text><text x="4" y="61">&lt; 3</text><text class="e" x="93" y="61">0 rows</text></g>
<g id="pub_relationship" transform="translate(691 3174)"><rect class="b" width="115" height="67.8"/><rect class="h" width="115" height="22.6"/><path class="l" d="M0 45.2H115M37 45.2V67.8M92.5 45.2V67.8"/><text class="n" x="57.5" y="16.5">pub_relationship</text><text x="5" y="38">...</text><text x="4" y="61">&lt; 3</text><text class="e" x="88.5" y="61">0 rows</text></g>
<g id="cell_line_cvterm" transform="translate(693 3271)"><rect class="b" width="112" height="67.8"/><rect class="h" width="112" height="22.6"/><path class="l" d="M0 45.2H112M30 45.2V67.8M82 45.2V67.8"/><text class="n" x="56" y="16.5">cell_line_cvterm</text><text x="5" y="38">...</text><text x="4" y="61">&lt; 3</text><text class="e" x="78" y="61">0 rows</text><text class="e" x="108" y="61">1 &gt;</text></g>
<g id="feature_phenotype" transform="translate(684 3440)"><rect class="b" width="130" height="67.8"/><rect class="h" width="130" height="22.6"/><path class="l" d="M0 45.2H130M44.5 45.2V67.8M103.8 45.2V67.8"/><text class="n" x="65" y="16.5">feature_phenotype</text><text x="5" y="38">...</text><text x="4" y="61">&lt; 2</text><text class="e" x="99.8" y="61">0 rows</text></g>
<g id="phendesc" transform="translate(702 3536)"><rect class="b" width="95" height="67.8"/><rect class="h" width="95" height="22.6"/><path class="l" d="M0 45.2H95M27 45.2V67.8M77.5 45.2V67.8"/><text class="n" x="47.5" y="16.5">phendesc</text><text x="5" y="38">...</text><text x="4" y="61">&lt; 4</text><text class="e" x="73.5" y="61">0 rows</text></g>
<g id="genotypeprop" transform="translate(701 3632)"><rect class="b" width="98" height="67.8"/><rect class="h" width="98" height="22.6"/><path class="l" d="M0 45.2H98M28.5 45.2V67.8M79.8 45.2V67.8"/><text class="n" x="49" y="16.5">genotypeprop</text><text x="5" y="38">...</text><text x="4" y="61">&lt; 2</text><text class="e" x="75.8" y="61">0 rows</text></g>
<g id="phenstatement" transform="translate(697 3727)"><rect class="b" width="104" height="67.8"/><rect class="h" width="104" height="22.6"/><path class="l" d="M0 45.2H104M31.5 45.2V67.8M84.3 45.2V67.8"/><text class="n" x="52" y="16.5">phenstatement</text><text x="5" y="38">...</text><text x="4" y="61">&lt; 5</text><text class="e" x="80.3" y="61">0 rows</text></g>
<g id="phenotype_comparison_cvterm" transform="translate(644 3824)"><rect class="b" width="212" height="67.8"/><rect class="h" width="212" height="22.6"/><path class="l" d="M0 45.2H212M85.5 45.2V67.8M165.3 45.2V67.8"/><text class="n" x="106" y="16.5">phenotype_comparison_cvterm</text><text x="5" y="38">...</text><text x="4" y="61">&lt; 3</text><text class="e" x="161.3" y="61">0 rows</text></g>
<g id="pubprop" transform="translate(702 3920)"><rect class="b" width="95" height="67.8"/><rect class="h" width="95" height="22.6"/><path class="l" d="M0 45.2H95M27 45.2V67.8M77.5 45.2V67.8"/><text class="n" x="47.5" y="16.5">pubprop</text><text x="5" y="38">...</text><text x="4" y="61">&lt; 2</text><text class="e" x="73.5" y="61">0 rows</text></g>
<g id="phenotype_cvterm" transform="translate(684 4016)"><rect class="b" width="129" height="67.8"/><rect class="h" width="129" height="22.6"/><path class="l" d="M0 45.2H129M44 45.2V67.8M103 45.2V67.8"/><text class="n" x="64.5" y="16.5">phenotype_cvterm</text><text x="5" y="38">...</text><text x="4" y="61">&lt; 2</text><text class="e" x="99" y="61">0 rows</text></g>
<g id="stockprop" transform="translate(695 4112)"><rect class="b" width="107" height="67.8"/><rect class="h" width="107" height="22.6"/><path class="l" d="M0 45.2H107M27.5 45.2V67.8M78.3 45.2V67.8"/><text class="n" x="53.5" y="16.5">stockprop</text><text x="5" y="38">...</text><text x="4" y="61">&lt; 2</text><text class="e" x="74.3" y="61">0 rows</text><text class="e" x="103" y="61">1 &gt;</text></g>
<g id="stock_relationship" transform="translate(686 4208)"><rect class="b" width="125" height="67.8"/><rect class="h" width="125" height="22.6"/><path class="l" d="M0 45.2H125M36.5 45.2V67.8M91.8 45.2V67.8"/><text class="n" x="62.5" y="16.5">stock_relationship</text><text x="5" y="38">...</text><text x="4" y="61">&lt; 3</text><text class="e" x="87.8" y="61">0 rows</text><text class="e" x="121" y="61">2 &gt;</text></g>
<g id="stock_cvterm" transform="translate(695 4341)"><rect class="b" width="107" height="67.8"/><rect class="h" width="107" height="22.6"/><path class="l" d="M0 45.2H107M27.5 45.2V67.8M78.3 45.2V67.8"/><text class="n" x="53.5" y="16.5">stock_cvterm</text><text x="5" y="38">...</text><text x="4" y="61">&lt; 3</text><text class="e" x="74.3" y="61">0 rows</text><text class="e" x="103" y="61">1 &gt;</text></g>
<g id="nd_experimentprop" transform="translate(682 4437)"><rect class="b" width="133" height="67.8"/><rect class="h" width="133" height="22.6"/><path class="l" d="M0 45.2H133M46 45.2V67.8M106 45.2V67.8"/><text class="n" x="66.5" y="16.5">nd_experimentprop</text><text x="5" y="38">...</text><text x="4" y="61">&lt; 2</text><text class="e" x="102" y="61">0 rows</text></g>
<g id="nd_experiment_stock" transform="translate(675 4533)"><rect class="b" width="147" height="67.8"/><rect class="h" width="147" height="22.6"/><path class="l" d="M0 45.2H147M47.5 45.2V67.8M108.3 45.2V67.8"/><text class="n" x="73.5" y="16.5">nd_experiment_stock</text><text x="5" y="38">...</text><text x="4" y="61">&lt; 3</text><text class="e" x="104.3" y="61">0 rows</text><text class="e" x="143" y="61">2 &gt;</text></g>
<g id="nd_reagentprop" transform="translate(694 4629)"><rect class="b" width="111" height="67.8"/><rect class="h" width="111" height="22.6"/><path class="l" d="M0 45.2H111M35 45.2V67.8M89.5 45.2V67.8"/><text class="n" x="55.5" y="16.5">nd_reagentprop</text><text x="5" y="38">...</text><text x="4" y="61">&lt; 2</text><text class="e" x="85.5" y="61">0 rows</text></g>
<g id="nd_reagent_relationship" transform="translate(666 4725)"><rect class="b" width="166" height="67.8"/><rect class="h" width="166" height="22.6"/><path class="l" d="M0 45.2H166M62.5 45.2V67.8M130.8 45.2V67.8"/><text class="n" x="83" y="16.5">nd_reagent_relationship</text><text x="5" y="38">...</text><text x="4" y="61">&lt; 3</text><text class="e" x="126.8" y="61">0 rows</text></g>
<g id="studyprop_feature" transform="translate(686 5028)"><rect class="b" width="125" height="67.8"/><rect class="h" width="125" height="22.6"/><path class="l" d="M0 45.2H125M42 45.2V67.8M100 45.2V67.8"/><text class="n" x="62.5" y="16.5">studyprop_feature</text><text x="5" y="38">...</text><text x="4" y="61">&lt; 3</text><text class="e" x="96" y="61">0 rows</text></g>
<g id="nd_protocol_reagent" transform="translate(678 5124)"><rect class="b" width="141" height="67.8"/><rect class="h" width="141" height="22.6"/><path class="l" d="M0 45.2H141M50 45.2V67.8M112 45.2V67.8"/><text class="n" x="70.5" y="16.5">nd_protocol_reagent</text><text x="5" y="38">...</text><text x="4" y="61">&lt; 3</text><text class="e" x="108" y="61">0 rows</text></g>
<g id="expression_cvtermprop" transform="translate(669 6624)"><rect class="b" width="160" height="67.8"/><rect class="h" width="160" height="22.6"/><path class="l" d="M0 45.2H160M59.5 45.2V67.8M126.3 45.2V67.8"/><text class="n" x="80" y="16.5">expression_cvtermprop</text><text x="5" y="38">...</text><text x="4" y="61">&lt; 2</text><text class="e" x="122.3" y="61">0 rows</text></g>
<g id="stockcollectionprop" transform="translate(951 258)"><rect class="b" width="132" height="67.8"/><rect class="h" width="132" height="22.6"/><path class="l" d="M0 45.2H132M45.5 45.2V67.8M105.3 45.2V67.8"/><text class="n" x="66" y="16.5">stockcollectionprop</text><text x="5" y="38">...</text><text x="4" y="61">&lt; 2</text><text class="e" x="101.3" y="61">0 rows</text></g>
<g id="phylonode_relationship" transform="translate(938 748)"><rect class="b" width="158" height="67.8"/><rect class="h" width="158" height="22.6"/><path class="l" d="M0 45.2H158M58.5 45.2V67.8M124.8 45.2V67.8"/><text class="n" x="79" y="16.5">phylonode_relationship</text><text x="5" y="38">...</text><text x="4" y="61">&lt; 4</text><text class="e" x="120.8" y="61">0 rows</text></g>
<g id="arraydesign" transform="translate(963 915)"><rect class="b" width="107" height="67.8"/><rect class="h" width="107" height="22.6"/><path class="l" d="M0 45.2H107M27.5 45.2V67.8M78.3 45.2V67.8"/><text class="n" x="53.5" y="16.5">arraydesign</text><text x="5" y="38">...</text><text x="4" y="61">&lt; 5</text><text class="e" x="74.3" y="61">0 rows</text><text class="e" x="103" y="61">3 &gt;</text></g>
<g id="treatment" transform="translate(963 1292)"><rect class="b" width="107" height="67.8"/><rect class="h" width="107" height="22.6"/><path class="l" d="M0 45.2H107M27.5 45.2V67.8M78.3 45.2V67.8"/><text class="n" x="53.5" y="16.5">treatment</text><text x="5" y="38">...</text><text x="4" y="61">&lt; 3</text><text class="e" x="74.3" y="61">0 rows</text><text class="e" x="103" y="61">1 &gt;</text></g>
<g id="protocolparam" transform="translate(966 1401)"><rect class="b" width="101" height="67.8"/><rect class="h" width="101" height="22.6"/><path class="l" d="M0 45.2H101M30 45.2V67.8M82 45.2V67.8"/><text class="n" x="50.5" y="16.5">protocolparam</text><text x="5" y="38">...</text><text x="4" y="61">&lt; 3</text><text class="e" x="78" y="61">0 rows</text></g>
<g id="phylonodeprop" transform="translate(964 1789)"><rect class="b" width="105" height="67.8"/><rect class="h" width="105" height="22.6"/><path class="l" d="M0 45.2H105M32 45.2V67.8M85 45.2V67.8"/><text class="n" x="52.5" y="16.5">phylonodeprop</text><text x="5" y="38">...</text><text x="4" y="61">&lt; 2</text><text class="e" x="81" y="61">0 rows</text></g>
<g id="feature_expressionprop" transform="translate(936 2005)"><rect class="b" width="162" height="67.8"/><rect class="h" width="162" height="22.6"/><path class="l" d="M0 45.2H162M60.5 45.2V67.8M127.8 45.2V67.8"/><text class="n" x="81" y="16.5">feature_expressionprop</text><text x="5" y="38">...</text><text x="4" y="61">&lt; 2</text><text class="e" x="123.8" y="61">0 rows</text></g>
<g id="feature_pubprop" transform="translate(959 2255)"><rect class="b" width="115" height="67.8"/><rect class="h" width="115" height="22.6"/><path class="l" d="M0 45.2H115M37 45.2V67.8M92.5 45.2V67.8"/><text class="n" x="57.5" y="16.5">feature_pubprop</text><text x="5" y="38">...</text><text x="4" y="61">&lt; 2</text><text class="e" x="88.5" y="61">0 rows</text></g>
<g id="analysisfeatureprop" transform="translate(949 2498)"><rect class="b" width="136" height="67.8"/><rect class="h" width="136" height="22.6"/><path class="l" d="M0 45.2H136M47.5 45.2V67.8M108.3 45.2V67.8"/><text class="n" x="68" y="16.5">analysisfeatureprop</text><text x="5" y="38">...</text><text x="4" y="61">&lt; 2</text><text class="e" x="104.3" y="61">0 rows</text></g>
<g id="feature_cvtermprop" transform="translate(950 2742)"><rect class="b" width="135" height="67.8"/><rect class="h" width="135" height="22.6"/><path class="l" d="M0 45.2H135M47 45.2V67.8M107.5 45.2V67.8"/><text class="n" x="67.5" y="16.5">feature_cvtermprop</text><text x="5" y="38">...</text><text x="4" y="61">&lt; 2</text><text class="e" x="103.5" y="61">0 rows</text></g>
<g id="featureprop_pub" transform="translate(950 2903)"><rect class="b" width="135" height="113"/><rect class="k" y="22.6" width="135" height="22.6"/><rect class="i" y="45.2" width="135" height="45.2"/><rect class="h" width="135" height="22.6"/><path class="l" d="M0 45.2H135M0 67.8H135M0 90.4H135M47 90.4V113M107.5 90.4V113"/><rect class="o" width="135" height="113"/><text class="n" x="67.5" y="16.5">featureprop_pub</text><text x="5" y="38.1">featureprop_pub_id</text><text x="5" y="60.7">featureprop_id</text><text x="5" y="83.3">pub_id</text><text x="4" y="105.9">&lt; 2</text><text class="e" x="103.5" y="105.9">0 rows</text></g>
<g id="cell_line_cvtermprop" transform="translate(946 3171)"><rect class="b" width="141" height="67.8"/><rect class="h" width="141" height="22.6"/><path class="l" d="M0 45.2H141M50 45.2V67.8M112 45.2V67.8"/><text class="n" x="70.5" y="16.5">cell_line_cvtermprop</text><text x="5" y="38">...</text><text x="4" y="61">&lt; 2</text><text class="e" x="108" y="61">0 rows</text></g>
<g id="stock_relationship_cvterm" transform="translate(929 4208)"><rect class="b" width="177" height="67.8"/><rect class="h" width="177" height="22.6"/><path class="l" d="M0 45.2H177M68 45.2V67.8M139 45.2V67.8"/><text class="n" x="88.5" y="16.5">stock_relationship_cvterm</text><text x="5" y="38">...</text><text x="4" y="61">&lt; 3</text><text class="e" x="135" y="61">0 rows</text></g>
<g id="feature_relationshipprop" transform="translate(934 4313)"><rect class="b" width="165" height="67.8"/><rect class="h" width="165" height="22.6"/><path class="l" d="M0 45.2H165M56.5 45.2V67.8M121.8 45.2V67.8"/><text class="n" x="82.5" y="16.5">feature_relationshipprop</text><text x="5" y="38">...</text><text x="4" y="61">&lt; 2</text><text class="e" x="117.8" y="61">0 rows</text><text class="e" x="161" y="61">1 &gt;</text></g>
<g id="stock_cvtermprop" transform="translate(955 4428)"><rect class="b" width="123" height="67.8"/><rect class="h" width="123" height="22.6"/><path class="l" d="M0 45.2H123M41 45.2V67.8M98.5 45.2V67.8"/><text class="n" x="61.5" y="16.5">stock_cvtermprop</text><text x="5" y="38">...</text><text x="4" y="61">&lt; 2</text><text class="e" x="94.5" y="61">0 rows</text></g>
<g id="nd_experiment_stockprop" transform="translate(929 4747)"><rect class="b" width="176" height="67.8"/><rect class="h" width="176" height="22.6"/><path class="l" d="M0 45.2H176M67.5 45.2V67.8M138.3 45.2V67.8"/><text class="n" x="88" y="16.5">nd_experiment_stockprop</text><text x="5" y="38">...</text><text x="4" y="61">&lt; 2</text><text class="e" x="134.3" y="61">0 rows</text></g>
<g id="element" transform="translate(1191 915)"><rect class="b" width="107" height="67.8"/><rect class="h" width="107" height="22.6"/><path class="l" d="M0 45.2H107M27.5 45.2V67.8M78.3 45.2V67.8"/><text class="n" x="53.5" y="16.5">element</text><text x="5" y="38">...</text><text x="4" y="61">&lt; 4</text><text class="e" x="74.3" y="61">0 rows</text><text class="e" x="103" y="61">3 &gt;</text></g>
<g id="arraydesignprop" transform="translate(1189 1019)"><rect class="b" width="114" height="67.8"/><rect class="h" width="114" height="22.6"/><path class="l" d="M0 45.2H114M36.5 45.2V67.8M91.8 45.2V67.8"/><text class="n" x="57" y="16.5">arraydesignprop</text><text x="5" y="38">...</text><text x="4" y="61">&lt; 2</text><text class="e" x="87.8" y="61">0 rows</text></g>
<g id="biomaterial_treatment" transform="translate(1171 1225)"><rect class="b" width="149" height="67.8"/><rect class="h" width="149" height="22.6"/><path class="l" d="M0 45.2H149M54 45.2V67.8M118 45.2V67.8"/><text class="n" x="74.5" y="16.5">biomaterial_treatment</text><text x="5" y="38">...</text><text x="4" y="61">&lt; 3</text><text class="e" x="114" y="61">0 rows</text></g>
<g id="element_relationship" transform="translate(1385 915)"><rect class="b" width="144" height="67.8"/><rect class="h" width="144" height="22.6"/><path class="l" d="M0 45.2H144M51.5 45.2V67.8M114.3 45.2V67.8"/><text class="n" x="72" y="16.5">element_relationship</text><text x="5" y="38">...</text><text x="4" y="61">&lt; 3</text><text class="e" x="110.3" y="61">0 rows</text></g>
</g>
<text x="17" y="7073">Generated by SchemaSpy</text>
</g>
</svg>
